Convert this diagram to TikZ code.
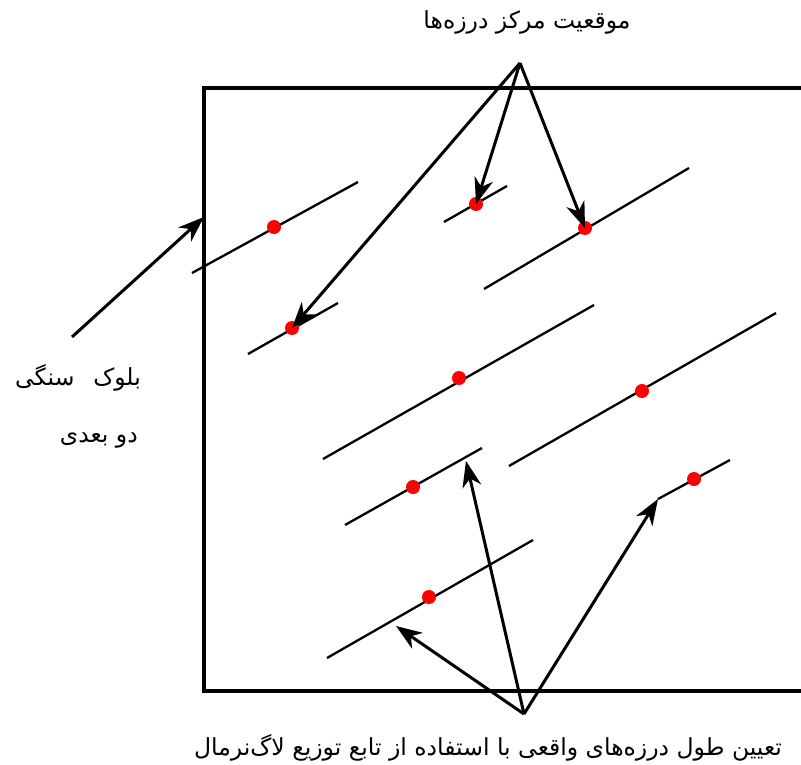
\documentclass[tikz,border=0pt]{standalone}
\usepackage{fontspec}
\newfontfamily\arabicfont[Script=Arabic]{DejaVu Sans}
\TeXXeTstate=1
\usetikzlibrary{arrows.meta}
\tikzset{
  joint/.style={line width=2.3pt, black},
  centerdot/.style={circle, fill=red, inner sep=0pt, minimum size=14pt},
  pointer/.style={line width=3pt, -{Stealth[length=26pt,width=19pt,inset=8pt]}},
  label/.style={font=\arabicfont\fontsize{23.5}{28}\selectfont, inner sep=0pt},
}
\begin{document}
\begin{tikzpicture}[x=1pt,y=-1pt]
\useasboundingbox (0,0) rectangle (801,765);
\clip (0,0) rectangle (801,765);
\fill[white] (0,0) rectangle (801,765);
\draw[line width=3.3pt] (204,88) rectangle (830,691);
% joints
\foreach \n/\ax/\ay/\bx/\by/\cx/\cy in {
 1/192/273/358/182/274/227,
 2/444/222/507/186/476/204,
 3/484/289/689/168/585/228,
 4/248/354/338/303/292/328,
 5/323/459/594/305/459/378,
 6/509/466/776/313/642/391,
 7/345/525/482/448/413/487,
 8/658/499/730/460/694/479,
 9/327/658/533/540/429/597}{
  \coordinate (a\n) at (\ax,\ay);
  \coordinate (b\n) at (\bx,\by);
  \draw[joint] (a\n) -- (b\n);
  \node[centerdot] (c\n) at (\cx,\cy) {};
}
% labels
\node[label] (top) at (527,22) {\beginR موقعیت مرکز درزه‌ها\endR};
\node[label, anchor=east] (blk1) at (141,378) {\beginR بلوک\hspace{0.8em}سنگی\endR};
\node[label, anchor=east] (blk2) at (138,440) {\beginR دو بعدی\endR};
\node[label] (bot) at (488,748) {\beginR تعیین طول درزه‌های واقعی با استفاده از تابع توزیع لاگ‌نرمال\endR};
% pointer origins
\coordinate (tp) at (520,63);
\coordinate (lp) at (72,337);
\coordinate (bp) at (524,714);
\coordinate (boxedge) at (204,217);
\coordinate (t9) at (396,626);
\coordinate (t7) at (466,461);
% arrows
\draw[pointer] (tp) -- (c2.center);
\draw[pointer] (tp) -- (c3.center);
\draw[pointer] (tp) -- (c4.center);
\draw[pointer] (lp) -- (boxedge);
\draw[pointer] (bp) -- (t9);
\draw[pointer] (bp) -- (t7);
\draw[pointer] (bp) -- (a8);
\end{tikzpicture}
\end{document}
